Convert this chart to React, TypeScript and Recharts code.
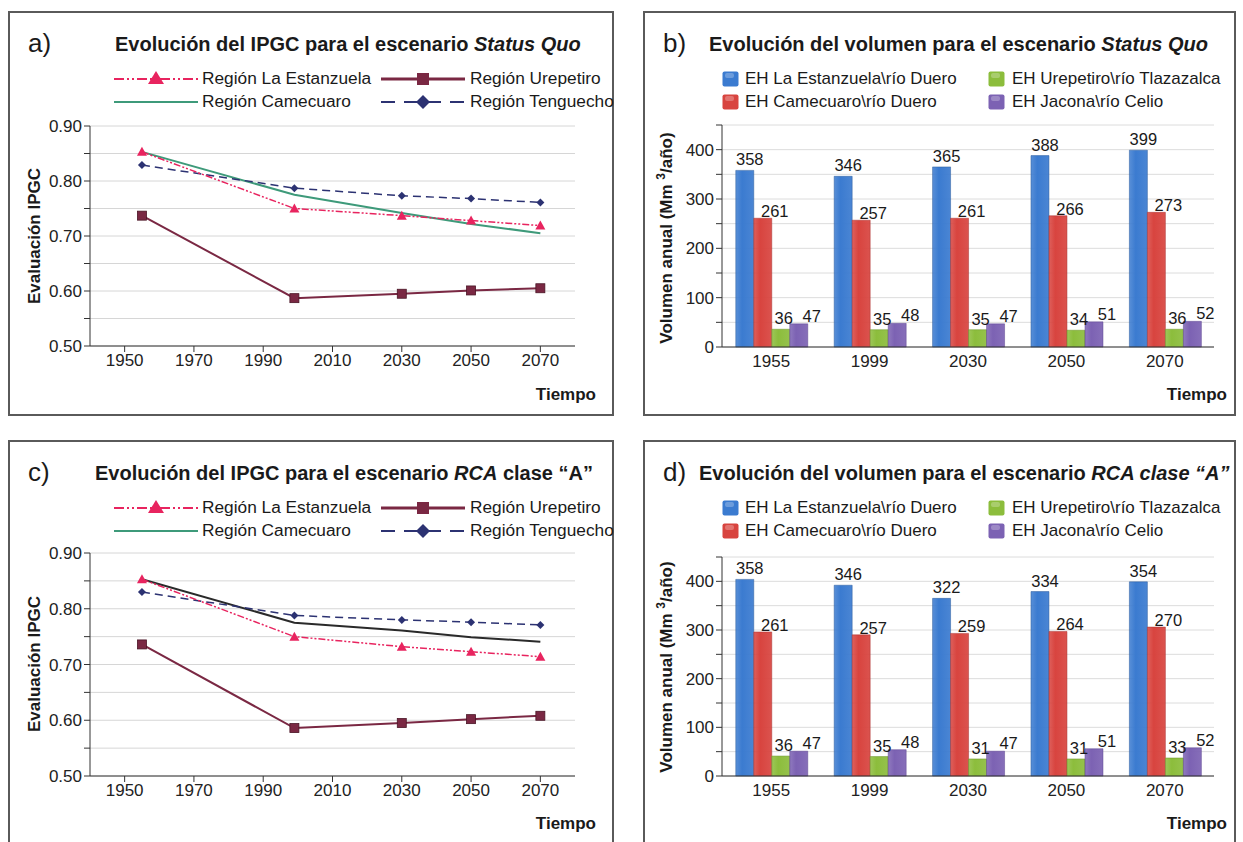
import React from 'react';
import { LineChart, Line, XAxis, YAxis, CartesianGrid, BarChart, Bar, LabelList } from 'recharts';

const FONT = '"Liberation Sans", Arial, Helvetica, sans-serif';

// shared x values
const years = [1955, 1999, 2030, 2050, 2070];
const yearLabels = ['1955', '1999', '2030', '2050', '2070'];
const ipgcXTicks = [1950, 1970, 1990, 2010, 2030, 2050, 2070];
const ipgcYTicks = [0.5, 0.55, 0.6, 0.65, 0.7, 0.75, 0.8, 0.85, 0.9];
const volYTicks = [0, 50, 100, 150, 200, 250, 300, 350, 400, 450];

// a) IPGC, Status Quo
const sqEstanzuela = [0.853, 0.75, 0.737, 0.728, 0.719];
const sqUrepetiro = [0.737, 0.587, 0.595, 0.601, 0.605];
const sqCamecuaro = [0.853, 0.775, 0.742, 0.722, 0.705];
const sqTenguecho = [0.829, 0.787, 0.773, 0.768, 0.761];

// c) IPGC, RCA clase "A"
const rcaEstanzuela = [0.853, 0.75, 0.732, 0.723, 0.714];
const rcaUrepetiro = [0.736, 0.586, 0.595, 0.602, 0.608];
const rcaCamecuaro = [0.853, 0.775, 0.761, 0.749, 0.741];
const rcaTenguecho = [0.83, 0.788, 0.78, 0.776, 0.771];

// b) volumen, Status Quo
const sqVolEstanzuela = [358, 346, 365, 388, 399];
const sqVolCamecuaro = [261, 257, 261, 266, 273];
const sqVolUrepetiro = [36, 35, 35, 34, 36];
const sqVolJacona = [47, 48, 47, 51, 52];

// d) volumen, RCA -- bar heights as drawn, printed labels differ in the original
const rcaVolEstanzuela = [404, 392, 365, 379, 399];
const rcaVolCamecuaro = [296, 290, 293, 297, 306];
const rcaVolUrepetiro = [41, 40, 35, 35, 37];
const rcaVolJacona = [51, 54, 51, 56, 58];
const rcaLblEstanzuela = [358, 346, 322, 334, 354];
const rcaLblCamecuaro = [261, 257, 259, 264, 270];
const rcaLblUrepetiro = [36, 35, 31, 31, 33];
const rcaLblJacona = [47, 48, 47, 51, 52];

const PINK = '#e8245f';
const MAROON = '#7a2843';
const GREEN = '#3e9a7a';
const NAVY = '#2c3272';

const BLUE = '#3b7bd0';
const RED = '#d8443f';
const LIME = '#8cbd3c';
const PURPLE = '#7c62b3';

const ipgcRows = (e: number[], u: number[], c: number[], t: number[]) =>
  years.map((y, i) => ({ year: y, est: e[i], ure: u[i], cam: c[i], ten: t[i] }));

const volRows = (e: number[], c: number[], u: number[], j: number[], le: number[], lc: number[], lu: number[], lj: number[]) =>
  yearLabels.map((y, i) => ({
    year: y, est: e[i], cam: c[i], ure: u[i], jac: j[i],
    estL: le[i], camL: lc[i], ureL: lu[i], jacL: lj[i],
  }));

const triangleDot = (color: string, s: number) => (p: any) => {
  const { cx, cy, index } = p;
  if (cx == null || cy == null) return <g key={index} />;
  return <path key={index} d={`M${cx},${cy - s} L${cx + s},${cy + s * 0.8} L${cx - s},${cy + s * 0.8} Z`} fill={color} />;
};
const squareDot = (color: string, s: number) => (p: any) => {
  const { cx, cy, index } = p;
  if (cx == null || cy == null) return <g key={index} />;
  return <rect key={index} x={cx - s} y={cy - s} width={s * 2} height={s * 2} fill={color} stroke="#4a1526" strokeWidth={0.8} />;
};
const diamondDot = (color: string, s: number) => (p: any) => {
  const { cx, cy, index } = p;
  if (cx == null || cy == null) return <g key={index} />;
  return <path key={index} d={`M${cx},${cy - s} L${cx + s},${cy} L${cx},${cy + s} L${cx - s},${cy} Z`} fill={color} />;
};

const Frame = ({ left, top, width, height }: any) => (
  <div style={{ position: 'absolute', left, top, width, height, border: '2px solid #5a5a5a', boxSizing: 'border-box', background: '#fff' }} />
);

const Txt = ({ x, y, children, size = 17, bold = false, anchor = 'start', style = {} }: any) => {
  const tx = anchor === 'start' ? '0' : anchor === 'end' ? '-100%' : '-50%';
  return (
    <div style={{ position: 'absolute', left: x, top: y, transform: `translate(${tx}, -50%)`, fontSize: size, fontWeight: bold ? 'bold' : 'normal', whiteSpace: 'nowrap', lineHeight: 1.15, color: '#1a1a1a', ...style }}>
      {children}
    </div>
  );
};

const VTxt = ({ x, y, children }: any) => (
  <div style={{ position: 'absolute', left: x, top: y, transform: 'translate(-50%, -50%) rotate(-90deg)', fontSize: 17, fontWeight: 'bold', whiteSpace: 'nowrap', lineHeight: 1, color: '#1a1a1a' }}>
    {children}
  </div>
);

const LineSwatch = ({ x, y, color, dash, width = 2, marker }: any) => (
  <svg width={84} height={20} style={{ position: 'absolute', left: x, top: y - 10 }}>
    <line x1={0} y1={10} x2={84} y2={10} stroke={color} strokeWidth={width} strokeDasharray={dash} />
    {marker === 'triangle' && <path d="M42,2 L50,15 L34,15 Z" fill={color} />}
    {marker === 'square' && <rect x={36} y={4} width={12} height={12} fill={color} />}
    {marker === 'diamond' && <path d="M42,3 L49,10 L42,17 L35,10 Z" fill={color} />}
  </svg>
);

const BoxSwatch = ({ x, y, color }: any) => (
  <svg width={17} height={16} style={{ position: 'absolute', left: x, top: y - 8 }}>
    <rect x={0.5} y={0.5} width={16} height={15} rx={2} fill={color} />
    <rect x={3} y={2} width={9} height={5} rx={2} fill="#fff" opacity={0.25} />
  </svg>
);

const IpgcLegend = ({ top }: { top: number }) => (
  <>
    <LineSwatch x={114} y={top} color={PINK} dash="10 3 2 3 2 3" width={2} marker="triangle" />
    <Txt x={202} y={top} size={17.3}>Región La Estanzuela</Txt>
    <LineSwatch x={381} y={top} color={MAROON} width={3} marker="square" />
    <Txt x={470} y={top} size={17.3}>Región Urepetiro</Txt>
    <LineSwatch x={114} y={top + 23} color={GREEN} width={2} />
    <Txt x={202} y={top + 23} size={17.3}>Región Camecuaro</Txt>
    <LineSwatch x={381} y={top + 23} color={NAVY} dash="14 9" width={2} marker="diamond" />
    <Txt x={470} y={top + 23} size={17.3}>Región Tenguecho</Txt>
  </>
);

const VolLegend = ({ top }: { top: number }) => (
  <>
    <BoxSwatch x={722} y={top} color={BLUE} />
    <Txt x={745} y={top}>EH La Estanzuela\río Duero</Txt>
    <BoxSwatch x={988} y={top} color={LIME} />
    <Txt x={1012} y={top}>EH Urepetiro\río Tlazazalca</Txt>
    <BoxSwatch x={722} y={top + 23} color={RED} />
    <Txt x={745} y={top + 23}>EH Camecuaro\río Duero</Txt>
    <BoxSwatch x={988} y={top + 23} color={PURPLE} />
    <Txt x={1012} y={top + 23}>EH Jacona\río Celio</Txt>
  </>
);

const IpgcChart = ({ top, plotTop, plotBottom, data, camColor }: any) => {
  const height = plotBottom - top + 40;
  return (
    <div style={{ position: 'absolute', left: 0, top }}>
      <LineChart width={615} height={height} data={data} margin={{ top: plotTop - top, right: 40, bottom: 10, left: 40 }}>
        <CartesianGrid vertical={false} stroke="#d6d6d6" />
        <XAxis
          dataKey="year"
          type="number"
          domain={[1940, 2080]}
          ticks={ipgcXTicks}
          height={30}
          stroke="#333"
          tick={{ fontSize: 17, fill: '#222' }}
        />
        <YAxis
          type="number"
          domain={[0.5, 0.9]}
          ticks={ipgcYTicks}
          width={50}
          stroke="#333"
          tick={{ fontSize: 17, fill: '#222' }}
          tickFormatter={(v: number) => (Math.round(v * 100) % 10 === 0 ? v.toFixed(2) : '')}
        />
        <Line dataKey="cam" stroke={camColor} strokeWidth={2} dot={false} isAnimationActive={false} />
        <Line dataKey="ten" stroke={NAVY} strokeWidth={1.5} strokeDasharray="8 5" dot={diamondDot(NAVY, 4)} isAnimationActive={false} />
        <Line dataKey="est" stroke={PINK} strokeWidth={1.5} strokeDasharray="7 2 2 2 2 2" dot={triangleDot(PINK, 5)} isAnimationActive={false} />
        <Line dataKey="ure" stroke={MAROON} strokeWidth={2} dot={squareDot(MAROON, 4.5)} isAnimationActive={false} />
      </LineChart>
    </div>
  );
};

const Grad = ({ id, color }: any) => (
  <linearGradient id={id} x1="0" y1="0" x2="1" y2="0">
    <stop offset="0" stopColor={color} stopOpacity={0.85} />
    <stop offset="0.35" stopColor={color} stopOpacity={1} />
    <stop offset="1" stopColor={color} stopOpacity={0.92} />
  </linearGradient>
);

const VolChart = ({ top, plotTop, plotBottom, data, prefix }: any) => {
  const height = plotBottom - top + 40;
  const lbl = { fontSize: 16.5, fill: '#1a1a1a' };
  return (
    <div style={{ position: 'absolute', left: 620, top }}>
      <BarChart width={623} height={height} data={data} barCategoryGap="14%" barGap={0}
        margin={{ top: plotTop - top, right: 29, bottom: 10, left: 52 }}>
        <defs>
          <Grad id={`${prefix}b`} color={BLUE} />
          <Grad id={`${prefix}r`} color={RED} />
          <Grad id={`${prefix}g`} color={LIME} />
          <Grad id={`${prefix}p`} color={PURPLE} />
        </defs>
        <CartesianGrid vertical={false} stroke="#dcdcdc" />
        <XAxis dataKey="year" height={30} stroke="#333" tickLine={false} tick={{ fontSize: 17, fill: '#222' }} />
        <YAxis
          type="number"
          domain={[0, 450]}
          ticks={volYTicks}
          width={50}
          stroke="#333"
          tick={{ fontSize: 17, fill: '#222' }}
          tickFormatter={(v: number) => (v % 100 === 0 ? String(v) : '')}
        />
        <Bar dataKey="est" fill={`url(#${prefix}b)`} stroke="#2a5a9a" strokeWidth={0.5} isAnimationActive={false}>
          <LabelList dataKey="estL" position="top" dx={5} {...lbl} />
        </Bar>
        <Bar dataKey="cam" fill={`url(#${prefix}r)`} stroke="#a83330" strokeWidth={0.5} isAnimationActive={false}>
          <LabelList dataKey="camL" position="top" dx={12} dy={4} {...lbl} />
        </Bar>
        <Bar dataKey="ure" fill={`url(#${prefix}g)`} stroke="#6a9228" strokeWidth={0.5} isAnimationActive={false}>
          <LabelList dataKey="ureL" position="top" dx={3} {...lbl} />
        </Bar>
        <Bar dataKey="jac" fill={`url(#${prefix}p)`} stroke="#5c4590" strokeWidth={0.5} isAnimationActive={false}>
          <LabelList dataKey="jacL" position="top" dx={13} dy={3} {...lbl} />
        </Bar>
      </BarChart>
    </div>
  );
};

export default function App() {
  const dataA = ipgcRows(sqEstanzuela, sqUrepetiro, sqCamecuaro, sqTenguecho);
  const dataC = ipgcRows(rcaEstanzuela, rcaUrepetiro, rcaCamecuaro, rcaTenguecho);
  const dataB = volRows(sqVolEstanzuela, sqVolCamecuaro, sqVolUrepetiro, sqVolJacona,
    sqVolEstanzuela, sqVolCamecuaro, sqVolUrepetiro, sqVolJacona);
  const dataD = volRows(rcaVolEstanzuela, rcaVolCamecuaro, rcaVolUrepetiro, rcaVolJacona,
    rcaLblEstanzuela, rcaLblCamecuaro, rcaLblUrepetiro, rcaLblJacona);

  return (
    <div style={{ position: 'absolute', left: 0, top: 0, width: 1243, height: 842, overflow: 'hidden', background: '#fff', fontFamily: FONT }}>
      <Frame left={8} top={11} width={606} height={405} />
      <Frame left={643} top={11} width={593} height={405} />
      <Frame left={8} top={440} width={606} height={430} />
      <Frame left={643} top={440} width={593} height={430} />

      <IpgcChart top={0} plotTop={126} plotBottom={346} data={dataA} camColor={GREEN} />
      <IpgcChart top={427} plotTop={553} plotBottom={776} data={dataC} camColor="#2a2a2a" />
      <VolChart top={0} plotTop={125} plotBottom={347} data={dataB} prefix="sq" />
      <VolChart top={427} plotTop={557} plotBottom={776} data={dataD} prefix="rca" />

      {/* a) */}
      <Txt x={28} y={44} size={26}>a)</Txt>
      <Txt x={115} y={44} size={20} bold>Evolución del IPGC para el escenario <i>Status Quo</i></Txt>
      <IpgcLegend top={79} />
      <VTxt x={34} y={236}>Evaluación IPGC</VTxt>
      <Txt x={596} y={395} bold anchor="end">Tiempo</Txt>

      {/* b) */}
      <Txt x={663} y={44} size={26}>b)</Txt>
      <Txt x={709} y={44} size={20} bold>Evolución del volumen para el escenario <i>Status Quo</i></Txt>
      <VolLegend top={79} />
      <VTxt x={665} y={238}>Volumen anual (Mm <sup style={{ fontSize: 12 }}>3</sup>/año)</VTxt>
      <Txt x={1227} y={395} bold anchor="end">Tiempo</Txt>

      {/* c) */}
      <Txt x={28} y={473} size={26}>c)</Txt>
      <Txt x={95} y={473} size={20} bold>Evolución del IPGC para el escenario <i>RCA</i> clase “A”</Txt>
      <IpgcLegend top={508} />
      <VTxt x={34} y={664}>Evaluación IPGC</VTxt>
      <Txt x={596} y={824} bold anchor="end">Tiempo</Txt>

      {/* d) */}
      <Txt x={663} y={473} size={26}>d)</Txt>
      <Txt x={699} y={473} size={20} bold>Evolución del volumen para el escenario <i>RCA clase “A”</i></Txt>
      <VolLegend top={508} />
      <VTxt x={665} y={667}>Volumen anual (Mm <sup style={{ fontSize: 12 }}>3</sup>/año)</VTxt>
      <Txt x={1227} y={824} bold anchor="end">Tiempo</Txt>
    </div>
  );
}
